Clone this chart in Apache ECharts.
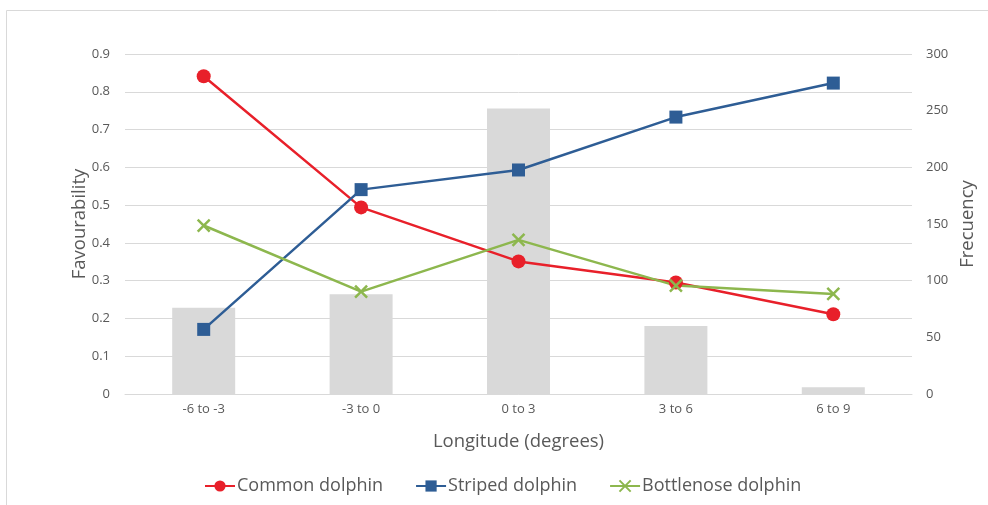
<!DOCTYPE html>
<html><head><meta charset="utf-8">
<script src="https://cdn.jsdelivr.net/npm/echarts@6/dist/echarts.min.js"></script>
<style>html,body{margin:0;padding:0;background:#fff}#c{width:988px;height:505px}</style>
</head><body><div id="c"></div>
<script>
const categories = ['-6 to -3', '-3 to 0', '0 to 3', '3 to 6', '6 to 9'];
const frequency = [76, 88, 252, 60, 6];
const commonDolphin = [0.841, 0.494, 0.351, 0.295, 0.211];
const stripedDolphin = [0.171, 0.541, 0.593, 0.733, 0.823];
const bottlenoseDolphin = [0.446, 0.271, 0.408, 0.287, 0.265];
const leftTicks = [0, 0.9, 0.1];
const rightTicks = [0, 300, 50];

const FONT = '"Open Sans", "Noto Sans", sans-serif';
const chart = echarts.init(document.getElementById('c'), null, {renderer: 'canvas'});
const lineSeries = (name, data, color, symbol, size) => ({
  name, type: 'line', data, yAxisIndex: 0, symbol, symbolSize: size,
  lineStyle: {color, width: 2.5}, itemStyle: {color},
  z: 3, animation: false
});
chart.setOption({
  animation: false,
  textStyle: {fontFamily: FONT},
  graphic: [{type: 'rect', shape: {x: 6.5, y: 10.5, width: 1000, height: 600},
    style: {fill: 'none', stroke: '#d9d9d9', lineWidth: 1}, silent: true}],
  grid: {left: 125, right: 76, top: 54, bottom: 111, outerBoundsMode: 'none', containLabel: false},
  legend: {
    data: ['Common dolphin', 'Striped dolphin', 'Bottlenose dolphin'],
    bottom: 5, left: 199, itemWidth: 30, itemHeight: 14, itemGap: 32,
    textStyle: {fontSize: 18, color: '#595959', fontFamily: FONT, padding: [0, 0, 0, -3]}
  },
  xAxis: {
    type: 'category', data: categories,
    name: 'Longitude (degrees)', nameLocation: 'middle', nameGap: 38,
    nameTextStyle: {fontSize: 18.5, color: '#595959'},
    axisLine: {lineStyle: {color: '#d9d9d9'}}, axisTick: {show: false},
    axisLabel: {color: '#595959', fontSize: 13, margin: 9}
  },
  yAxis: [{
    type: 'value', min: leftTicks[0], max: leftTicks[1], interval: leftTicks[2],
    name: 'Favourability', nameLocation: 'middle', nameGap: 36, nameMoveOverlap: false,
    nameTextStyle: {fontSize: 18.5, color: '#595959'},
    axisLine: {show: false}, axisTick: {show: false},
    axisLabel: {color: '#595959', fontSize: 13, margin: 15, formatter: v => +v.toFixed(1) + ''},
    splitLine: {lineStyle: {color: '#d9d9d9'}}
  }, {
    type: 'value', min: rightTicks[0], max: rightTicks[1], interval: rightTicks[2],
    name: 'Frecuency', nameLocation: 'middle', nameGap: 46, nameMoveOverlap: false,
    nameTextStyle: {fontSize: 18.5, color: '#595959'},
    axisLine: {show: false}, axisTick: {show: false},
    axisLabel: {color: '#595959', fontSize: 13, margin: 14},
    splitLine: {show: false}
  }],
  series: [
    {name: 'Frequency', type: 'bar', yAxisIndex: 1, data: frequency, barWidth: 63,
     itemStyle: {color: '#d9d9d9'}, z: 1},
    lineSeries('Common dolphin', commonDolphin, '#e8202a', 'circle', 14),
    lineSeries('Striped dolphin', stripedDolphin, '#2e5d95', 'rect', 13),
    {name: 'Bottlenose dolphin', type: 'line', data: bottlenoseDolphin, yAxisIndex: 0,
     symbol: 'path://M0,0 L1,1 M1,0 L0,1', symbolSize: 12,
     lineStyle: {color: '#8db74e', width: 2.5},
     itemStyle: {color: 'none', borderColor: '#8db74e', borderWidth: 2.5}, z: 3}
  ]
});
</script></body></html>
